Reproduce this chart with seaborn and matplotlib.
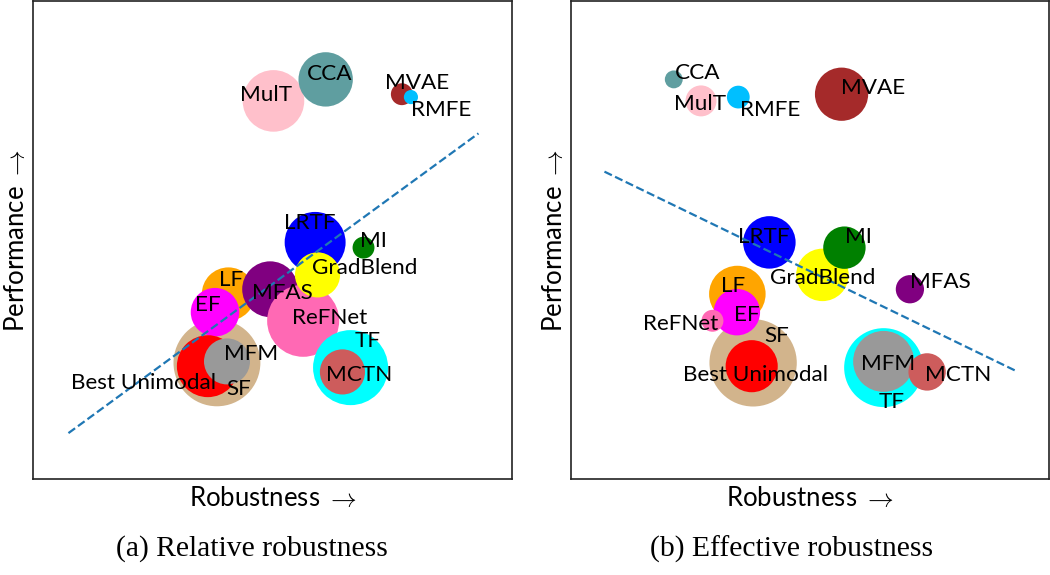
import numpy as np
import pandas as pd
import matplotlib.pyplot as plt
import seaborn as sns

# methods in drawing order (later ones sit on top)
methods = ["LF", "SF", "EF", "Best Unimodal", "MFAS", "ReFNet", "TF", "MFM", "MCTN",
           "LRTF", "GradBlend", "MI", "MulT", "CCA", "MVAE", "RMFE"]
performance = [38.7, 24.3, 34.9, 23.6, 39.7, 33.1, 23.3, 24.6, 22.4,
               49.5, 42.7, 48.4, 79.1, 83.6, 80.5, 79.9]
rel_robustness = [40.8, 38.4, 38.0, 36.5, 49.5, 56.4, 66.3, 40.5, 64.6,
                  58.9, 59.4, 69.0, 50.2, 61.1, 77.0, 78.9]
eff_robustness = [34.8, 38.1, 34.7, 37.8, 70.9, 29.6, 65.4, 65.4, 74.5,
                  41.5, 52.6, 57.2, 27.2, 21.5, 56.6, 35.0]
rel_spread = [71, 189, 59, 96, 78, 130, 141, 53, 51, 93, 51, 12, 95, 74, 12, 5]
eff_spread = [80, 191, 54, 68, 20, 12, 156, 93, 35, 69, 69, 45, 24, 8, 71, 13]

# dashed trend lines (endpoints)
rel_trend_x = [7.4, 93.0]
rel_trend_y = [9.6, 72.3]
eff_trend_x = [7.0, 92.9]
eff_trend_y = [64.3, 22.7]

colors = {"LF": "orange", "SF": "tan", "EF": "magenta", "Best Unimodal": "red",
          "MFAS": "purple", "ReFNet": "hotpink", "TF": "cyan", "MFM": "#999999",
          "MCTN": "indianred", "LRTF": "blue", "GradBlend": "yellow", "MI": "green",
          "MulT": "pink", "CCA": "cadetblue", "MVAE": "brown", "RMFE": "deepskyblue"}

# label offsets in points
rel_offsets = {"LF": (2, 10), "SF": (16, -19), "EF": (-5, 5), "Best Unimodal": (-46, -12),
               "MFAS": (9, -3), "ReFNet": (19, 2), "TF": (12, 19), "MFM": (17, 5),
               "MCTN": (12, -2), "LRTF": (-4, 14), "GradBlend": (34, 5), "MI": (7, 5),
               "MulT": (-5, 4.5), "CCA": (3, 4), "MVAE": (11, 8), "RMFE": (22, -9)}
eff_offsets = {"LF": (-3, 5.5), "SF": (17, 19), "EF": (7, -2), "Best Unimodal": (3, -6),
               "MFAS": (22, 5), "ReFNet": (-23, -2), "TF": (6, -25), "MFM": (3, -2),
               "MCTN": (22, -2), "LRTF": (-4, 4), "GradBlend": (0, -2), "MI": (10, 8),
               "MulT": (-1, -2), "CCA": (17, 4.5), "MVAE": (23, 4.5), "RMFE": (23, -9)}

sns.set_style("white")
plt.rcParams['font.family'] = ['Lato', 'DejaVu Sans']
plt.rcParams['mathtext.fontset'] = 'cm'
plt.rcParams['text.color'] = 'black'
plt.rcParams['axes.labelcolor'] = 'black'

fig = plt.figure(figsize=(10.5, 5.75), dpi=100)
ax1 = fig.add_axes([33 / 1050, 96 / 575, 479 / 1050, 478 / 575])
ax2 = fig.add_axes([571 / 1050, 96 / 575, 478 / 1050, 478 / 575])


def bubbles(ax, robustness, spread, trend_x, trend_y, offsets):
    df = pd.DataFrame({"method": methods, "robustness": robustness,
                       "performance": performance, "spread": spread})
    sns.scatterplot(data=df, x="robustness", y="performance", hue="method",
                    palette=colors, size="spread", sizes=(0, 20.7 * 200),
                    size_norm=(0, 200), linewidth=0, edgecolor="none",
                    alpha=1, legend=False, ax=ax, zorder=2)
    ax.plot(trend_x, trend_y, linestyle="--", color="#1f77b4", linewidth=1.6, zorder=3)
    for name, x, y in zip(methods, robustness, performance):
        ax.annotate(name, (x, y), xytext=offsets[name], textcoords="offset points",
                    ha="center", va="center", fontsize=16.2, color="black", zorder=4)
    ax.set_xlim(0, 100)
    ax.set_ylim(0, 100)
    ax.set_xticks([])
    ax.set_yticks([])
    ax.set_xlabel("Robustness $\\rightarrow$", fontsize=18.5, labelpad=5)
    ax.set_ylabel("Performance $\\rightarrow$", fontsize=18.5, labelpad=3)
    for sp in ax.spines.values():
        sp.set_color("#222222")
        sp.set_linewidth(1.2)


bubbles(ax1, rel_robustness, rel_spread, rel_trend_x, rel_trend_y, rel_offsets)
bubbles(ax2, eff_robustness, eff_spread, eff_trend_x, eff_trend_y, eff_offsets)

fig.text(252 / 1050, 1 - 549 / 575, "(a) Relative robustness", ha="center", va="center",
         fontsize=21.3, family="Liberation Serif", color="black")
fig.text(792 / 1050, 1 - 549 / 575, "(b) Effective robustness", ha="center", va="center",
         fontsize=21.3, family="Liberation Serif", color="black")

plt.savefig("out.png", dpi=100)
